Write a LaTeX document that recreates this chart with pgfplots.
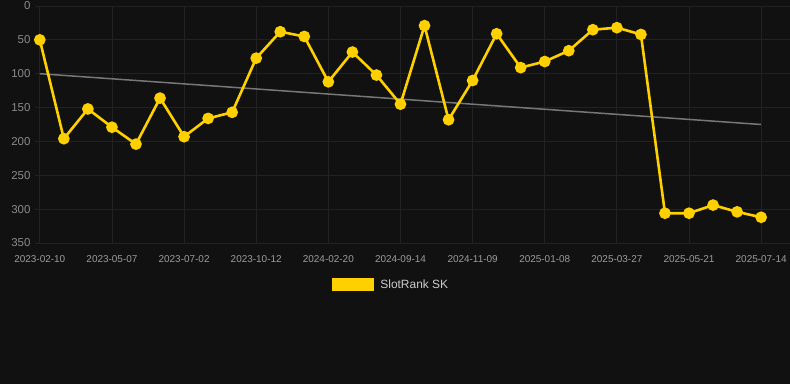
\documentclass[border=0pt]{standalone}
\usepackage{pgfplots}
\pgfplotsset{compat=1.18}
\usepackage{fontspec}
\setmainfont{Liberation Sans}
\definecolor{bg}{HTML}{111111}
\definecolor{gridc}{HTML}{222222}
\definecolor{gold}{HTML}{FFD000}
\definecolor{trend}{HTML}{777777}
\definecolor{ticktxt}{HTML}{8A8A8A}
\begin{document}
\begin{tikzpicture}
\useasboundingbox (0,0) rectangle (790bp,384bp);
\fill[bg] (0,0) rectangle (790bp,384bp);
\begin{axis}[
  at={(35bp,141bp)}, anchor=south west,
  scale only axis, width=755bp, height=237bp,
  xmin=-0.2, xmax=31.2, ymin=0, ymax=350,
  y dir=reverse,
  axis line style={draw=none},
  grid=major, grid style={gridc, line width=0.8bp},
  xtick={0,3,...,30},
  xticklabels={2023-02-10,2023-05-07,2023-07-02,2023-10-12,2024-02-20,2024-09-14,2024-11-09,2025-01-08,2025-03-27,2025-05-21,2025-07-14},
  ytick={0,50,...,350},
  major tick length=0pt,
  xticklabel style={font=\fontsize{10}{11}\selectfont, text=ticktxt!85, yshift=-9bp},
  yticklabel style={font=\fontsize{11.5}{12}\selectfont, text=ticktxt, xshift=-1bp},
  /pgf/number format/assume math mode=true,
  legend style={at={(0.4715,-0.175)}, anchor=center, fill=none, draw=none,
    text=white!80!black, font=\fontsize{12}{13}\selectfont, inner sep=0pt,
    nodes={inner sep=2bp}},
  legend image code/.code={\fill[#1] (0bp,-5.5bp) rectangle (40bp,5.5bp); \path (44bp,0bp);},
]
\addplot[trend, line width=1.5bp, forget plot] coordinates {(0,100) (30,175)};
\addplot[gold, line width=2.6bp, mark=*, mark size=4.5bp, mark options={fill=gold, draw=gold}]
coordinates {
(0,50) (1,196) (2,152) (3,179) (4,204) (5,136) (6,193) (7,166) (8,157) (9,77)
(10,38) (11,45) (12,112) (13,68) (14,102) (15,145) (16,29) (17,168) (18,110) (19,41)
(20,91) (21,82) (22,66) (23,35) (24,32) (25,42) (26,306) (27,306) (28,294) (29,304) (30,312)
};
\addlegendentry{SlotRank SK}
\end{axis}
\end{tikzpicture}
\end{document}
